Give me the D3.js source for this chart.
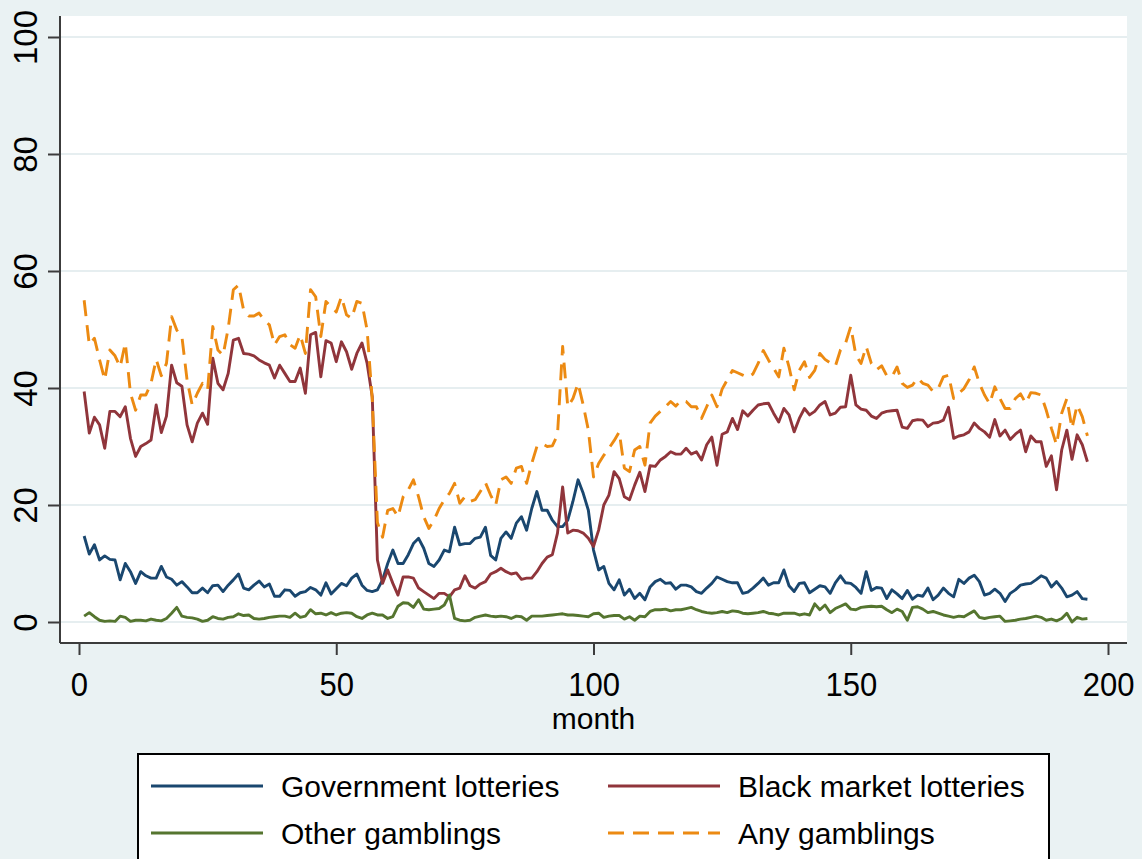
<!DOCTYPE html>
<html>
<head>
<meta charset="utf-8">
<script src="https://cdnjs.cloudflare.com/ajax/libs/d3/7.8.5/d3.min.js"></script>
<style>
  html, body { margin: 0; padding: 0; background: #eaf2f3; }
  svg { display: block; }
  text { font-family: "Liberation Sans", Arial, sans-serif; fill: #000; }
</style>
</head>
<body>
<svg id="chart" width="1142" height="859"></svg>
<script>
// Monthly shares (%) by gambling type, months 1..196
const govLotteries = [
  14.7, 11.6, 13.2, 10.6, 11.3, 10.7, 10.6, 7.2, 10.0, 8.6, 6.6, 8.6, 7.9, 7.5, 7.5, 9.5, 7.7, 7.3, 6.3, 6.9, 6.0, 5.0, 5.0, 5.8, 5.0, 6.2,
  6.3, 5.2, 6.3, 7.2, 8.2, 5.8, 5.5, 6.3, 7.0, 6.0, 6.5, 4.4, 4.4, 5.5, 5.4, 4.4, 5.0, 5.2, 5.9, 5.5, 4.6, 6.7, 4.8, 5.7, 6.6, 6.2,
  7.5, 8.2, 6.3, 5.4, 5.2, 5.5, 7.2, 10.0, 12.3, 10.0, 10.0, 11.5, 13.4, 14.3, 12.6, 10.0, 9.5, 10.6, 12.3, 12.0, 16.2, 13.2, 13.4, 13.4, 14.3, 14.5,
  16.2, 11.4, 10.6, 14.3, 15.4, 14.3, 16.9, 18.0, 15.7, 19.4, 22.3, 19.1, 19.1, 17.4, 16.3, 16.3, 17.4, 20.6, 24.3, 22.0, 19.1, 12.3, 8.9, 9.5, 6.6, 5.5, 7.2,
  4.6, 5.6, 4.0, 4.9, 3.8, 6.0, 6.9, 7.3, 6.6, 6.7, 5.6, 6.3, 6.3, 6.0, 5.2, 4.9, 5.8, 6.6, 7.7, 7.3, 6.9, 6.7, 6.7, 4.9, 5.1, 5.8,
  6.6, 7.5, 6.3, 6.7, 6.7, 8.9, 6.2, 5.2, 6.6, 6.7, 5.0, 5.6, 6.2, 6.0, 4.9, 6.7, 7.9, 6.7, 6.6, 5.9, 4.9, 8.6, 5.4, 5.9, 5.8, 4.0,
  5.5, 4.8, 4.0, 5.4, 3.9, 4.6, 4.4, 5.8, 3.8, 4.6, 5.8, 4.9, 4.3, 7.3, 6.6, 7.5, 8.0, 6.9, 4.6, 4.9, 5.6, 4.9, 3.5, 4.9, 5.5, 6.3,
  6.5, 6.6, 7.2, 7.9, 7.5, 6.0, 6.9, 5.8, 4.3, 4.6, 5.2, 4.0, 3.9
];
const blackMarket = [
  39.4, 32.3, 35.0, 33.7, 29.7, 36.0, 36.0, 35.1, 36.8, 31.4, 28.3, 30.0, 30.5, 31.1, 37.1, 32.4, 35.2, 43.9, 40.9, 40.3, 33.7, 30.8, 34.0, 35.7, 33.8, 45.1,
  40.8, 39.7, 42.5, 48.2, 48.5, 45.9, 45.8, 45.5, 44.8, 44.3, 43.9, 41.7, 43.9, 42.5, 41.1, 41.1, 43.4, 39.1, 49.1, 49.5, 41.9, 48.1, 47.7, 44.5, 47.9, 46.2,
  43.2, 45.9, 47.7, 44.2, 38.5, 10.6, 6.6, 8.9, 6.6, 4.6, 7.7, 7.7, 7.5, 5.8, 5.2, 4.6, 4.0, 4.9, 4.9, 4.3, 5.5, 5.8, 7.9, 6.2, 5.8, 6.5,
  6.9, 8.2, 8.6, 9.2, 8.6, 8.2, 8.4, 7.3, 7.5, 7.5, 8.6, 10.0, 11.1, 11.5, 15.2, 23.1, 15.2, 15.7, 15.6, 15.2, 14.3, 12.9, 15.7, 20.0, 21.7, 25.7, 24.5,
  21.4, 20.9, 23.4, 25.6, 22.3, 26.7, 26.6, 27.7, 28.3, 29.1, 28.7, 28.7, 29.7, 28.7, 29.1, 27.7, 30.3, 31.6, 26.8, 32.1, 32.5, 34.8, 32.9, 36.1, 35.2, 36.2,
  37.1, 37.3, 37.4, 35.7, 34.2, 36.5, 35.4, 32.5, 34.8, 36.5, 35.4, 36.0, 37.1, 37.7, 35.4, 35.7, 36.7, 36.8, 42.2, 37.1, 36.4, 36.2, 35.2, 34.8, 35.7, 36.0,
  36.1, 36.2, 33.3, 33.1, 34.4, 34.6, 34.5, 33.4, 34.0, 34.1, 34.5, 36.7, 31.4, 31.8, 32.0, 32.5, 34.0, 33.1, 32.5, 31.6, 34.6, 31.8, 32.8, 31.2, 32.1, 32.8,
  29.1, 31.8, 30.8, 30.8, 26.6, 28.4, 22.6, 29.4, 32.8, 27.8, 32.0, 30.3, 27.4
];
const otherGambling = [
  1.0, 1.6, 0.9, 0.3, 0.1, 0.2, 0.1, 1.0, 0.8, 0.1, 0.3, 0.3, 0.2, 0.5, 0.3, 0.2, 0.6, 1.5, 2.5, 1.0, 0.8, 0.7, 0.5, 0.1, 0.3, 0.9,
  0.6, 0.5, 0.8, 0.9, 1.4, 1.1, 1.2, 0.6, 0.5, 0.6, 0.8, 0.9, 1.0, 1.0, 0.8, 1.5, 0.8, 1.0, 2.1, 1.4, 1.5, 1.2, 1.6, 1.2, 1.5, 1.6,
  1.5, 0.9, 0.6, 1.2, 1.5, 1.2, 1.2, 0.6, 0.9, 2.7, 3.3, 3.2, 2.5, 3.8, 2.2, 2.1, 2.2, 2.3, 2.9, 4.6, 0.6, 0.3, 0.2, 0.3, 0.8, 1.0,
  1.2, 1.0, 0.9, 1.0, 0.9, 0.6, 1.0, 0.9, 0.3, 1.0, 1.0, 1.0, 1.1, 1.2, 1.3, 1.4, 1.2, 1.2, 1.1, 1.0, 0.9, 1.4, 1.5, 0.8, 1.0, 1.1, 1.1,
  0.5, 0.9, 0.3, 1.0, 0.9, 1.8, 2.1, 2.1, 2.2, 1.9, 2.1, 2.1, 2.3, 2.5, 2.1, 1.8, 1.6, 1.5, 1.6, 1.8, 1.6, 1.9, 1.8, 1.5, 1.4, 1.5,
  1.6, 1.8, 1.5, 1.4, 1.2, 1.5, 1.5, 1.5, 1.2, 1.4, 1.2, 3.1, 2.1, 2.9, 1.6, 2.3, 2.7, 3.1, 2.2, 2.1, 2.5, 2.6, 2.7, 2.6, 2.7, 2.1,
  1.6, 2.2, 1.8, 0.3, 2.5, 2.6, 2.2, 1.6, 1.8, 1.5, 1.2, 1.0, 0.8, 1.0, 0.9, 1.4, 1.9, 0.8, 0.6, 0.8, 0.9, 1.0, 0.1, 0.2, 0.3, 0.5,
  0.6, 0.8, 1.0, 0.8, 0.3, 0.5, 0.2, 0.6, 1.5, 0.0, 0.8, 0.5, 0.6
];
const anyGambling = [
  55.0, 47.4, 48.5, 44.8, 41.4, 46.5, 45.5, 43.6, 47.7, 39.1, 36.2, 38.8, 38.8, 40.8, 44.9, 42.1, 44.2, 52.2, 49.9, 48.8, 41.4, 37.1, 39.1, 40.8, 39.7, 50.5,
  46.5, 45.6, 50.2, 56.8, 57.6, 53.3, 52.3, 52.3, 52.8, 51.6, 50.8, 47.4, 48.8, 49.1, 47.4, 46.8, 49.1, 45.9, 56.8, 55.6, 48.8, 54.8, 53.9, 53.0, 55.6, 52.5,
  51.9, 54.8, 54.5, 49.9, 38.0, 17.0, 14.5, 19.1, 19.4, 18.0, 21.4, 22.6, 24.3, 21.4, 18.0, 16.0, 17.4, 19.4, 20.9, 22.0, 23.7, 20.3, 21.4, 20.6, 20.9, 22.3,
  23.8, 21.7, 20.0, 24.3, 24.8, 23.7, 26.3, 26.6, 23.7, 27.1, 30.0, 30.5, 30.0, 30.1, 32.0, 47.1, 36.8, 38.2, 40.8, 37.1, 32.8, 24.8, 27.1, 28.5, 29.7, 31.0, 32.5,
  26.3, 25.7, 29.4, 30.0, 26.8, 34.0, 35.2, 36.0, 36.8, 37.7, 36.9, 37.9, 37.7, 36.8, 36.8, 34.8, 36.8, 38.8, 36.8, 39.8, 41.4, 43.0, 42.6, 42.2, 41.8, 42.4,
  44.2, 46.4, 44.8, 43.4, 41.9, 46.8, 43.6, 39.7, 43.0, 44.5, 41.8, 43.0, 45.9, 44.9, 44.3, 43.7, 46.5, 47.7, 50.5, 45.6, 44.2, 47.1, 44.2, 43.1, 43.8, 42.1,
  41.9, 43.6, 40.8, 40.1, 40.5, 41.7, 40.8, 40.5, 39.4, 39.9, 41.9, 42.2, 38.2, 39.1, 39.9, 41.4, 43.6, 40.8, 38.8, 37.3, 40.2, 38.2, 36.5, 36.5, 38.2, 39.0,
  37.4, 39.2, 39.1, 38.8, 36.2, 33.1, 30.3, 35.7, 38.2, 33.1, 37.1, 35.1, 31.8
];
const months = d3.range(1, govLotteries.length + 1);

const xTicks = [0, 50, 100, 150, 200];
const yTicks = [0, 20, 40, 60, 80, 100];
const xTitle = "month";

const seriesList = [
  { name: "Government lotteries", values: govLotteries, color: "#1a476f", dash: null },
  { name: "Black market lotteries", values: blackMarket, color: "#90353b", dash: null },
  { name: "Other gamblings", values: otherGambling, color: "#55752f", dash: null },
  { name: "Any gamblings", values: anyGambling, color: "#ec8a12", dash: "16,9" }
];

const svg = d3.select("#chart");
const W = 1142, H = 859;
const region = { left: 60, right: 1127, top: 16, bottom: 643 };

svg.append("rect").attr("width", W).attr("height", H).attr("fill", "#eaf2f3");
svg.append("rect")
  .attr("x", region.left).attr("y", region.top)
  .attr("width", region.right - region.left).attr("height", region.bottom - region.top)
  .attr("fill", "#ffffff");

const x = d3.scaleLinear().domain([0, 200]).range([79, 1108]);
const y = d3.scaleLinear().domain([0, 100]).range([622, 37]);

// horizontal grid
svg.append("g").selectAll("line").data(yTicks).join("line")
  .attr("x1", region.left).attr("x2", region.right)
  .attr("y1", d => y(d)).attr("y2", d => y(d))
  .attr("stroke", "#e6eef0").attr("stroke-width", 2);

// series lines
const line = d3.line().x((d, i) => x(months[i])).y(d => y(d));
const plot = svg.append("g");
seriesList.forEach(s => {
  plot.append("path")
    .datum(s.values)
    .attr("d", line)
    .attr("fill", "none")
    .attr("stroke", s.color)
    .attr("stroke-width", 2.9)
    .attr("stroke-linejoin", "round")
    .attr("stroke-dasharray", s.dash);
});

// axes
const axisColor = "#3c3c3c";
const yAxis = svg.append("g")
  .attr("transform", `translate(${region.left},0)`)
  .call(d3.axisLeft(y).tickValues(yTicks).tickSize(12).tickSizeOuter(0).tickFormat(d3.format("d")));
yAxis.select(".domain").attr("d", `M0,${region.top}V${region.bottom}`);
yAxis.selectAll("text")
  .attr("transform", "rotate(-90)")
  .attr("x", 0).attr("y", -23).attr("dy", 0)
  .attr("text-anchor", "middle")
  .style("font-size", "33px");

const xAxis = svg.append("g")
  .attr("transform", `translate(0,${region.bottom})`)
  .call(d3.axisBottom(x).tickValues(xTicks).tickSize(12).tickSizeOuter(0).tickFormat(d3.format("d")));
xAxis.select(".domain").attr("d", `M${region.left},0H${region.right}`);
xAxis.selectAll("text")
  .attr("x", 0).attr("y", 53).attr("dy", 0)
  .attr("transform", "scale(0.94,1)")
  .style("font-size", "33px");

[yAxis, xAxis].forEach(a => {
  a.select(".domain").attr("stroke", axisColor).attr("stroke-width", 2);
  a.selectAll(".tick line").attr("stroke", axisColor).attr("stroke-width", 2);
  a.selectAll("text").attr("fill", "#000").style("font-family", '"Liberation Sans", Arial, sans-serif');
});

svg.append("text")
  .attr("x", (x(0) + x(200)) / 2).attr("y", 729)
  .attr("text-anchor", "middle")
  .style("font-size", "30px")
  .text(xTitle);

// legend
const legend = svg.append("g");
legend.append("rect")
  .attr("x", 138).attr("y", 754).attr("width", 911).attr("height", 160)
  .attr("fill", "#ffffff").attr("stroke", "#000").attr("stroke-width", 2);

const cols = [{ key: 151, text: 281 }, { key: 608, text: 738 }];
const rows = [{ line: 786, base: 797 }, { line: 833, base: 844 }];
seriesList.forEach((s, i) => {
  const c = cols[i % 2], r = rows[Math.floor(i / 2)];
  legend.append("line")
    .attr("x1", c.key).attr("x2", c.key + 112)
    .attr("y1", r.line).attr("y2", r.line)
    .attr("stroke", s.color).attr("stroke-width", 2.9)
    .attr("stroke-dasharray", s.dash);
  legend.append("text")
    .attr("x", c.text).attr("y", r.base)
    .style("font-size", "30px")
    .text(s.name);
});
</script>
</body>
</html>
